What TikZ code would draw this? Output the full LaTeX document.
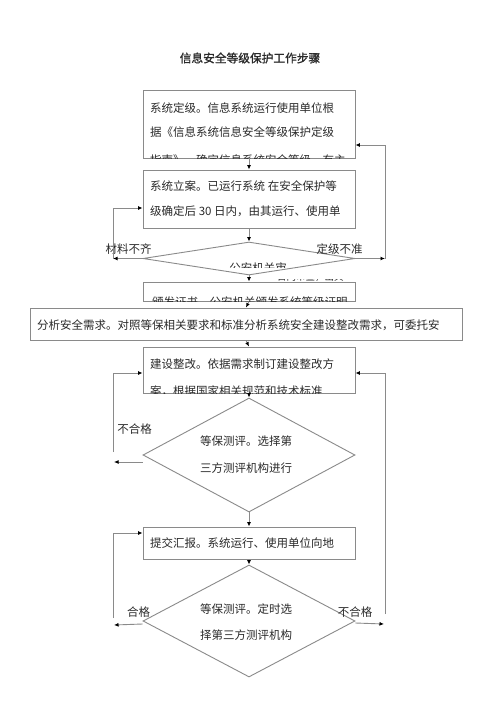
\documentclass[tikz,border=0pt]{standalone}
\usepackage{fontspec}
\setmainfont{Noto Sans CJK SC}
\newfontfamily\titlefont{Noto Sans CJK SC}[FakeBold=1.2]
\usetikzlibrary{arrows.meta,shapes.geometric,calc}
\definecolor{linegray}{HTML}{8A8A8A}
\definecolor{txt}{HTML}{2A2A2A}
\tikzset{
 stepbox/.style={draw=linegray,line width=0.9pt,rectangle,inner sep=0pt,minimum width=212pt},
 decision/.style={draw=linegray,line width=0.9pt,diamond,inner sep=0pt,minimum width=212pt},
 conn/.style={draw=linegray,line width=0.9pt},
 arr/.style={conn,-{Latex[length=4.5pt,width=4pt,color=black]}},
 txtline/.style={inner sep=0pt,anchor=west,font=\fontsize{11.5}{11.5}\selectfont,text=txt},
 lbl/.style={inner sep=0pt,font=\fontsize{11.5}{11.5}\selectfont,text=txt},
}
\begin{document}
\begin{tikzpicture}[x=1pt,y=-1pt]
\useasboundingbox[fill=white] (0,0) rectangle (500,707);
\node[lbl,font=\titlefont\fontsize{11.7}{12}\selectfont] (title) at (250,58) {信息安全等级保护工作步骤};

% boxes
\node[stepbox,minimum height=68pt] (b1) at (249,124) {};
\node[stepbox,minimum height=58pt] (b2) at (249,199) {};
\node[decision,minimum height=33pt] (d1) at (249,258.5) {};
\node[stepbox,minimum height=19pt] (b3) at (249,291.5) {};
\node[stepbox,minimum width=432pt,minimum height=32pt] (b4) at (246,324) {};
\node[stepbox,minimum height=46pt] (b5) at (249,370) {};
\node[decision,minimum height=114pt] (d2) at (249,455) {};
\node[stepbox,minimum height=32pt] (b6) at (249,543) {};
\node[decision,minimum height=112pt] (d3) at (249,621) {};

% texts
\begin{scope}
\clip (b1.south west) rectangle (b1.north east);
\node[txtline] (t1a) at (150,108) {系统定级。信息系统运行使用单位根};
\node[txtline] (t1b) at (150,132) {据《信息系统信息安全等级保护定级};
\node[txtline] (t1c) at (150,160.5) {指南》，确定信息系统安全等级，有主};
\end{scope}
\begin{scope}
\clip (b2.south west) rectangle (b2.north east);
\node[txtline] (t2a) at (150,186) {系统立案。已运行系统 在安全保护等};
\node[txtline] (t2b) at (150,211) {级确定后 30 日内，由其运行、使用单};
\end{scope}
\begin{scope}
\clip (143,250) rectangle (355,267);
\node[lbl] (t3) at (258,268.5) {公安机关审};
\end{scope}
\begin{scope}
\clip (270,279) rectangle (350,283.5);
\node[txtline,font=\fontsize{9.5}{9.5}\selectfont] (t3b) at (277,277) {日内审查，出具};
\end{scope}
\begin{scope}
\clip (b3.south west) rectangle (b3.north east);
\node[txtline] (t4) at (152,302.5) {颁发证书。公安机关颁发系统等级证明};
\end{scope}
\node[txtline] (t5) at (37,325) {分析安全需求。对照等保相关要求和标准分析系统安全建设整改需求，可委托安};
\begin{scope}
\clip (b5.south west) rectangle (b5.north east);
\node[txtline] (t6a) at (150,364) {建设整改。依据需求制订建设整改方};
\node[txtline] (t6b) at (150,391.5) {案，根据国家相关规范和技术标准};
\end{scope}
\node[txtline] (t7a) at (200,441) {等保测评。选择第};
\node[txtline] (t7b) at (200,468) {三方测评机构进行};
\node[txtline] (t8) at (150,543) {提交汇报。系统运行、使用单位向地};
\node[txtline] (t9a) at (200,609) {等保测评。定时选};
\node[txtline] (t9b) at (200,635) {择第三方测评机构};

% labels
\node[lbl] (la) at (128.5,249) {材料不齐};
\node[lbl] (lb) at (339.5,249) {定级不准};
\node[lbl] (lc) at (134.5,429) {不合格};
\node[lbl] (ld) at (138.5,612) {合格};
\node[lbl] (le) at (355,612) {不合格};

% main flow
\draw[arr] (b1.south) -- (b2.north);
\draw[arr] (b2.south) -- (d1.north);
\draw[arr] (d1.south) -- (b3.north);
\draw[arr] (b3.south) -- (b4.north);
\draw[arr] (b4.south) -- (b5.north);
\draw[arr] (b5.south) -- (d2.north);
\draw[arr] (d2.south) -- (b6.north);
\draw[arr] (b6.south) -- (d3.north);

% loop: 材料不齐
\coordinate (l1b) at (113,258.5);
\coordinate (l1t) at (113,208);
\draw[arr] (d1.west) -- (l1b);
\draw[arr] (l1b) -- (l1t) -- (l1t -| b2.west);
% loop: 定级不准
\coordinate (r1b) at (385,258.5);
\coordinate (r1t) at (385,145);
\draw[arr] (d1.east) -- (r1b);
\draw[arr] (r1b) -- (r1t) -- (r1t -| b1.east);
% loop: 不合格 (left)
\coordinate (l2e) at (114,462);
\coordinate (l2b) at (113,452);
\coordinate (l2t) at (113,373);
\draw[arr] ($(d2.west)+(0,7)$) -- (l2e);
\draw[arr] (l2b) -- (l2t) -- (l2t -| b5.west);
% loop: 不合格 (right)
\coordinate (r2e) at (384,624);
\coordinate (r2b) at (385,614);
\coordinate (r2t) at (385,373);
\draw[arr] ($(d3.east)+(0,2)$) -- (r2e);
\draw[arr] (r2b) -- (r2t) -- (r2t -| b5.east);
% loop: 合格
\coordinate (l3e) at (114,625);
\coordinate (l3b) at (113,618);
\coordinate (l3t) at (113,533);
\draw[arr] ($(d3.west)+(0,3)$) -- (l3e);
\draw[arr] (l3b) -- (l3t) -- (l3t -| b6.west);
\end{tikzpicture}
\end{document}
